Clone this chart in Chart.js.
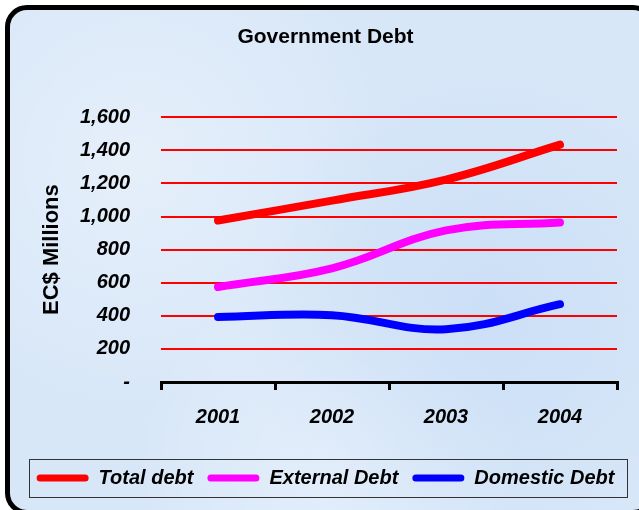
<!DOCTYPE html>
<html>
<head>
    <title>Government Debt</title>
    <style>
        body { margin: 0; background: #ffffff; }
        #frame {
            position: absolute; left: 5px; top: 5px; width: 640px; height: 500px;
            border: 5px solid #000; border-radius: 22px;
            background-color: #d8e7f8;
            background-image:
                radial-gradient(circle at 20% 30%, rgba(255,255,255,0.35), rgba(255,255,255,0) 40%),
                radial-gradient(circle at 75% 60%, rgba(190,215,245,0.5), rgba(190,215,245,0) 45%),
                radial-gradient(circle at 50% 90%, rgba(255,255,255,0.3), rgba(255,255,255,0) 35%);
        }
        #chart { position: absolute; left: 0; top: 0; }
    </style>
    <script src="https://cdn.jsdelivr.net/npm/chart.js"></script>
</head>
<body>
    <div id="frame"></div>
    <canvas id="chart" width="639" height="510"></canvas>

<script>
    var years = ['2001', '2002', '2003', '2004'];
    var totalDebt = [976, 1096, 1223, 1434];
    var externalDebt = [574, 687, 916, 964];
    var domesticDebt = [393, 404, 319, 470];
    var yTickValues = [0, 200, 400, 600, 800, 1000, 1200, 1400, 1600];

    var fontFamily = "'Liberation Sans', Arial, sans-serif";

    // box drawn round the legend, like the excel one
    var legendBox = {
        id: 'legendBox',
        afterDraw: function(chart) {
            var boxes = chart.legend.legendHitBoxes;
            if (!boxes || !boxes.length) return;
            var left = Math.min.apply(null, boxes.map(b => b.left)) - 8;
            var right = Math.max.apply(null, boxes.map(b => b.left + b.width)) + 12;
            var top = boxes[0].top - 9;
            var bottom = boxes[0].top + boxes[0].height + 9;
            var ctx = chart.ctx;
            ctx.save();
            ctx.strokeStyle = '#333';
            ctx.lineWidth = 1;
            ctx.strokeRect(Math.round(left) + 0.5, Math.round(top) + 0.5, Math.round(right - left), Math.round(bottom - top));
            ctx.restore();
        }
    };

    function series(label, data, color) {
        return {
            label: label,
            data: data,
            borderColor: color,
            backgroundColor: color,
            borderWidth: 8,
            borderCapStyle: 'round',
            tension: 0.4,
            pointRadius: 0,
            fill: false
        };
    }

    var ctx = document.getElementById('chart').getContext('2d');
    var chart = new Chart(ctx, {
        type: 'line',
        data: {
            labels: years,
            datasets: [
                series('Total debt', totalDebt, '#ff0000'),
                series('External Debt', externalDebt, '#ff00ff'),
                series('Domestic Debt', domesticDebt, '#0000ff')
            ]
        },
        plugins: [legendBox],
        options: {
            responsive: false,
            animation: false,
            layout: { padding: { top: 16, left: 22, right: 10, bottom: 12 } },
            plugins: {
                title: {
                    display: true,
                    text: 'Government Debt',
                    color: '#000',
                    font: { family: fontFamily, size: 21, weight: 'bold' },
                    padding: { top: 9, bottom: 67 }
                },
                legend: {
                    display: true,
                    position: 'bottom',
                    labels: {
                        color: '#000',
                        font: { family: fontFamily, size: 20, weight: 'bold', style: 'italic' },
                        boxWidth: 52,
                        boxHeight: 7,
                        useBorderRadius: true,
                        borderRadius: 3.5,
                        padding: 14,
                        generateLabels: function(chart) {
                            var items = Chart.defaults.plugins.legend.labels.generateLabels(chart);
                            items.forEach(function(it) { it.lineWidth = 0; });
                            return items;
                        }
                    }
                },
                tooltip: { enabled: false }
            },
            scales: {
                x: {
                    offset: true,
                    afterFit: function(scale) { scale.height = 72; },
                    grid: {
                        offset: true,
                        drawOnChartArea: false,
                        color: '#000',
                        lineWidth: 3,
                        tickLength: 8
                    },
                    border: { display: true, color: '#000', width: 3 },
                    ticks: {
                        color: '#000',
                        padding: 15,
                        font: { family: fontFamily, size: 20, weight: 'bold', style: 'italic' }
                    }
                },
                y: {
                    min: 0,
                    max: 1600,
                    afterBuildTicks: function(scale) {
                        scale.ticks = yTickValues.map(v => ({ value: v }));
                    },
                    afterFit: function(scale) { scale.width = 139; },
                    grid: {
                        drawTicks: false,
                        lineWidth: 2,
                        color: function(c) { return c.tick && c.tick.value === 0 ? 'rgba(0,0,0,0)' : '#ff0000'; }
                    },
                    border: { display: false },
                    ticks: {
                        color: '#000',
                        padding: 31,
                        font: { family: fontFamily, size: 20, weight: 'bold', style: 'italic' },
                        callback: function(v) { return v === 0 ? '-' : v.toLocaleString('en-US'); }
                    },
                    title: {
                        display: true,
                        text: 'EC$ Millions',
                        color: '#000',
                        font: { family: fontFamily, size: 22, weight: 'bold' },
                        padding: { top: 17, bottom: 0 }
                    }
                },
                y2: {
                    position: 'right',
                    display: true,
                    afterFit: function(scale) { scale.width = 12; },
                    grid: { display: false },
                    border: { display: false },
                    ticks: { display: false }
                }
            }
        }
    });
</script>
</body>
</html>
